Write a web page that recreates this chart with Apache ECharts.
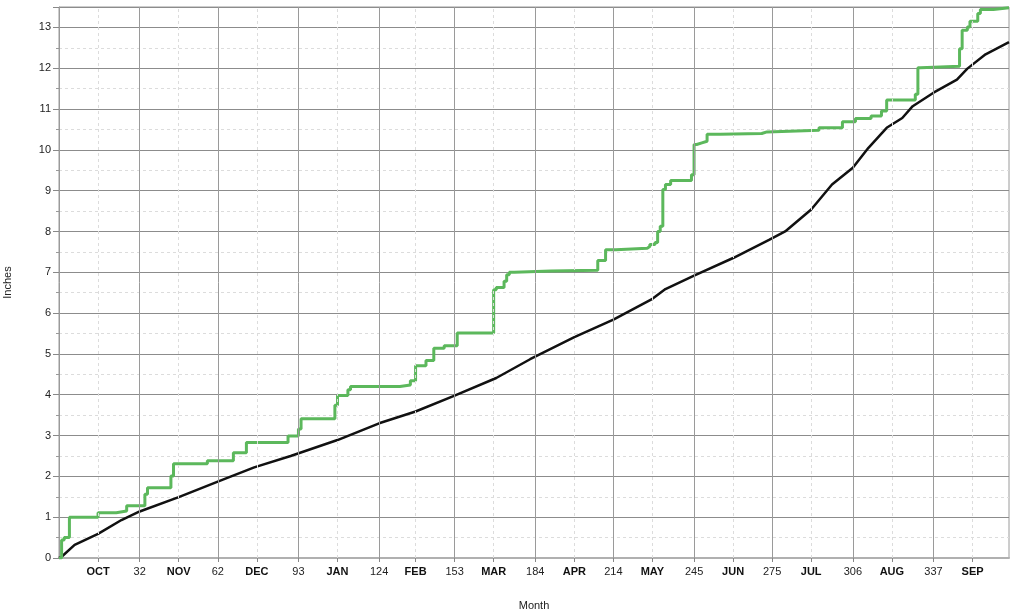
<!DOCTYPE html>
<html>
<head>
<meta charset="utf-8">
<script src="https://cdn.jsdelivr.net/npm/echarts@6/dist/echarts.min.js"></script>
<style>
  html, body { margin: 0; padding: 0; background: #fff; }
  #chart { width: 1022px; height: 614px; }
</style>
</head>
<body>
<div id="chart"></div>
<script>
// cumulative precipitation, water year (day 1 = Oct 1, leap year)
const monthStartDays = [32, 62, 93, 124, 153, 184, 214, 245, 275, 306, 337];
const midMonthDays   = [16, 47, 77, 108, 138, 168, 199, 229, 260, 290, 321, 352];
const monthNames     = ['OCT', 'NOV', 'DEC', 'JAN', 'FEB', 'MAR', 'APR', 'MAY', 'JUN', 'JUL', 'AUG', 'SEP'];

// observed (green, step) : [day, inches]
const observed = [
  [1, 0], [2, 0.44], [3, 0.5], [5, 1.0], [16, 1.11], [23, 1.15], [27, 1.28],
  [34, 1.56], [35, 1.72], [44, 2.01], [45, 2.31], [58, 2.38], [68, 2.58], [73, 2.83],
  [89, 2.99], [93, 3.16], [94, 3.41], [107, 3.74], [108, 3.98], [112, 4.12], [113, 4.2],
  [132, 4.24], [136, 4.34], [138, 4.71], [142, 4.84], [145, 5.14], [149, 5.2], [154, 5.51],
  [168, 6.57], [169, 6.63], [172, 6.78], [173, 6.94], [174, 7.0], [176, 7.03], [190, 7.05],
  [208, 7.29], [211, 7.55], [215, 7.59], [227, 7.63], [228, 7.68], [230, 7.73], [231, 8.0],
  [232, 8.13], [233, 9.03], [234, 9.15], [236, 9.25], [244, 9.39], [245, 10.13], [246, 10.17],
  [248, 10.21], [250, 10.38], [255, 10.4], [271, 10.44], [273, 10.48], [293, 10.54], [302, 10.69],
  [307, 10.77], [313, 10.83], [317, 10.95], [319, 11.22], [330, 11.36], [331, 12.01], [332, 12.05],
  [347, 12.48], [348, 12.93], [350, 13.01], [351, 13.15], [354, 13.34], [355, 13.44], [360, 13.48],
  [366, 13.48]
];

// normal (black) : [day, inches]
const normal = [
  [1, 0], [2, 0.03], [7, 0.32], [16, 0.59], [25, 0.93], [32, 1.14], [47, 1.49], [62, 1.87],
  [76, 2.22], [90, 2.5], [108, 2.89], [124, 3.3], [138, 3.59], [153, 3.98], [169, 4.41],
  [182, 4.87], [199, 5.41], [214, 5.84], [229, 6.35], [234, 6.59], [245, 6.92], [260, 7.35],
  [274, 7.8], [280, 8.0], [290, 8.54], [298, 9.15], [306, 9.56], [312, 10.05], [319, 10.54],
  [325, 10.78], [329, 11.07], [337, 11.4], [346, 11.72], [350, 11.99], [357, 12.34], [366, 12.64]
];

const font = '"Liberation Sans", Arial, Helvetica, sans-serif';
const labelOf = new Map();
monthStartDays.forEach(d => labelOf.set(d, String(d)));
midMonthDays.forEach((d, i) => labelOf.set(d, '{m|' + monthNames[i] + '}'));
const xTicks = [...monthStartDays, ...midMonthDays].sort((a, b) => a - b);

const gridLines = [
  ...monthStartDays.map(d => ({ xAxis: d, lineStyle: { color: '#9a9a9a', width: 1, type: 'solid' } })),
  ...midMonthDays.map(d => ({ xAxis: d, lineStyle: { color: '#dcdcdc', width: 1, type: [3, 3] } })),
];

const chart = echarts.init(document.getElementById('chart'));
chart.setOption({
  animation: false,
  backgroundColor: '#fff',
  textStyle: { fontFamily: font },
  grid: {
    left: 59, right: 13, top: 7, bottom: 56, outerBoundsMode: 'none', containLabel: false,
    show: true, borderColor: '#9a9a9a', borderWidth: 1,
  },
  xAxis: {
    type: 'value', min: 1, max: 366,
    name: 'Month', nameLocation: 'middle', nameGap: 42,
    nameTextStyle: { color: '#222', fontSize: 11, fontFamily: font },
    axisLine: { lineStyle: { color: '#b0b0b0', width: 2 } },
    axisTick: { customValues: xTicks, length: 4, lineStyle: { color: '#888' } },
    axisLabel: {
      customValues: xTicks, margin: 8, color: '#222', fontSize: 11, fontFamily: font,
      formatter: v => labelOf.get(v) ?? '',
      rich: { m: { fontWeight: 'bold', fontSize: 11, fontFamily: font, color: '#111', padding: [0, 0, 3, 0] } },
    },
    splitLine: { show: false },
  },
  yAxis: {
    type: 'value', min: 0, max: 13.5, interval: 1,
    name: 'Inches', nameLocation: 'middle', nameGap: 46, nameRotate: 90,
    nameTextStyle: { color: '#222', fontSize: 11, fontFamily: font },
    axisLine: { show: true, lineStyle: { color: '#9a9a9a' } },
    axisTick: { show: true, length: 6, lineStyle: { color: '#888' } },
    minorTick: { show: true, splitNumber: 2, length: 3, lineStyle: { color: '#999' } },
    axisLabel: { color: '#222', fontSize: 11, fontFamily: font, margin: 8, showMaxLabel: false },
    splitLine: { lineStyle: { color: '#8c8c8c', width: 1 } },
    minorSplitLine: { show: true, lineStyle: { color: '#dcdcdc', type: [3, 3] } },
  },
  series: [
    {
      name: 'grid', type: 'line', data: [[1, 0]], symbol: 'none', z: 1, silent: true,
      lineStyle: { opacity: 0 },
      markLine: { silent: true, symbol: 'none', label: { show: false }, data: gridLines },
    },
    {
      name: 'Normal', type: 'line', data: normal, symbol: 'none', z: 3,
      lineStyle: { color: '#111', width: 2.5 },
    },
    {
      name: 'Observed', type: 'line', step: 'end', data: observed, symbol: 'none', z: 4,
      lineStyle: { color: '#5cb85c', width: 3 },
    },
  ],
});
</script>
</body>
</html>
